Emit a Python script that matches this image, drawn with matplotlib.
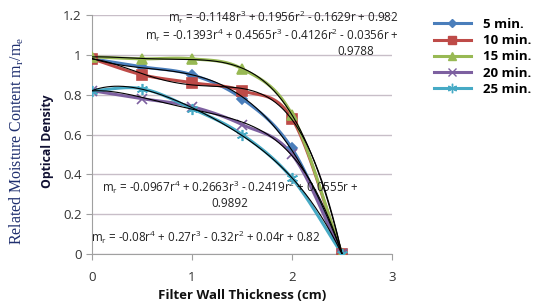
import numpy as np
import matplotlib
matplotlib.use("Agg")
import matplotlib.pyplot as plt
from matplotlib.lines import Line2D

thickness = [0, 0.5, 1, 1.5, 2, 2.5]
series_names = ["5 min.", "10 min.", "15 min.", "20 min.", "25 min."]
od_5 = [0.98, 0.94, 0.90, 0.78, 0.53, 0.0]
od_10 = [0.98, 0.90, 0.86, 0.82, 0.68, 0.0]
od_15 = [0.99, 0.98, 0.98, 0.93, 0.70, 0.0]
od_20 = [0.82, 0.78, 0.74, 0.65, 0.50, 0.0]
od_25 = [0.82, 0.83, 0.73, 0.60, 0.38, 0.0]
equations = [
    r"m$_\mathregular{r}$ = -0.1148r$^\mathregular{3}$ + 0.1956r$^\mathregular{2}$ - 0.1629r + 0.982",
    r"m$_\mathregular{r}$ = -0.1393r$^\mathregular{4}$ + 0.4565r$^\mathregular{3}$ - 0.4126r$^\mathregular{2}$ - 0.0356r +",
    "0.9788",
    r"m$_\mathregular{r}$ = -0.0967r$^\mathregular{4}$ + 0.2663r$^\mathregular{3}$ - 0.2419r$^\mathregular{2}$ + 0.0555r +",
    "0.9892",
    r"m$_\mathregular{r}$ = -0.08r$^\mathregular{4}$ + 0.27r$^\mathregular{3}$ - 0.32r$^\mathregular{2}$ + 0.04r + 0.82",
]

colors = ["#4A7EBB", "#BE4B48", "#98B954", "#7D60A0", "#46AAC5"]
markers = ["D", "s", "^", "x", (6, 2, 0)]
msizes = [5, 7, 7, 7, 8]
degrees = [3, 4, 4, 4, 4]

def smooth(x, y, n=20):
    x = np.asarray(x, float); y = np.asarray(y, float)
    px = np.concatenate([[2*x[0]-x[1]], x, [2*x[-1]-x[-2]]])
    py = np.concatenate([[2*y[0]-y[1]], y, [2*y[-1]-y[-2]]])
    xs, ys = [], []
    t = np.linspace(0, 1, n)
    for i in range(1, len(px)-2):
        p0, p1, p2, p3 = [np.array([px[j], py[j]]) for j in range(i-1, i+3)]
        c1 = p1 + (p2 - p0) / 6
        c2 = p2 - (p3 - p1) / 6
        b = ((1-t)**3)[:, None]*p1 + (3*(1-t)**2*t)[:, None]*c1 + (3*(1-t)*t**2)[:, None]*c2 + (t**3)[:, None]*p2
        xs.append(b[:, 0]); ys.append(b[:, 1])
    return np.concatenate(xs), np.concatenate(ys)

plt.rcParams['font.family'] = ['Open Sans', 'DejaVu Sans']
fig = plt.figure(figsize=(5.4, 3.03), dpi=100)
ax = fig.add_axes([92/540, 1-254/303, 300/540, 239/303])

data = [od_5, od_10, od_15, od_20, od_25]
for name, ys, c, m, ms, deg in zip(series_names, data, colors, markers, msizes, degrees):
    sx, sy = smooth(thickness, ys)
    ax.plot(sx, sy, color=c, lw=2.2, zorder=3)
    ax.plot(thickness, ys, ls="none", marker=m, color=c, ms=ms, mew=1.2, zorder=4)
    coef = np.polyfit(thickness, ys, deg)
    xx = np.linspace(0, 2.5, 200)
    ax.plot(xx, np.polyval(coef, xx), color="black", lw=0.8, zorder=5)

ax.set_xlim(0, 3)
ax.set_ylim(0, 1.2)
ax.set_xticks([0, 1, 2, 3])
ax.set_yticks([0, 0.2, 0.4, 0.6, 0.8, 1.0, 1.2])
ax.set_yticklabels(["0", "0.2", "0.4", "0.6", "0.8", "1", "1.2"])
ax.yaxis.grid(True, color="#C8BEC8", lw=1)
ax.set_axisbelow(True)
for s in ["top", "right"]:
    ax.spines[s].set_visible(False)
for s in ["left", "bottom"]:
    ax.spines[s].set_color("#A0A0A0")
ax.tick_params(axis="both", colors="#A0A0A0", labelcolor="#333333", labelsize=9.5, length=4)
ax.tick_params(axis="x", pad=8)

ax.set_xlabel("Filter Wall Thickness (cm)", fontsize=9.5, fontweight="bold", color="#111111", labelpad=4)
fig.text(48/540, 1-141/303, "Optical Density", rotation=90, ha="center", va="center",
         fontsize=8.8, fontweight="bold", color="#111133")
fig.text(17/540, 1-141/303, r"Related Moisture Content m$_\mathregular{r}$/m$_\mathregular{e}$",
         rotation=90, ha="center", va="center", fontsize=11.4, family="Liberation Serif", color="#1F2F6F")

tk = dict(fontsize=8.4, color="#222222", transform=ax.transData)
ax.text(0.76, 1.19, equations[0], ha="left", va="center", **tk)
ax.text(0.53, 1.10, equations[1], ha="left", va="center", **tk)
ax.text(2.64, 1.015, equations[2], ha="center", va="center", **tk)
ax.text(0.10, 0.335, equations[3], ha="left", va="center", **tk)
ax.text(1.38, 0.255, equations[4], ha="center", va="center", **tk)
ax.text(-0.01, 0.085, equations[5], ha="left", va="center", **tk)

handles = [Line2D([0], [0], color=c, lw=2.2, marker=m, ms=ms*0.85, mew=1.0) for c, m, ms in zip(colors, markers, msizes)]
leg = fig.legend(handles, series_names, loc="upper left", bbox_to_anchor=(422/540, 1-6/303),
                 frameon=False, prop={"weight": "bold", "size": 9.5}, handlelength=2.8,
                 labelspacing=0.25, handletextpad=0.9)

fig.savefig("out.png", dpi=100)
